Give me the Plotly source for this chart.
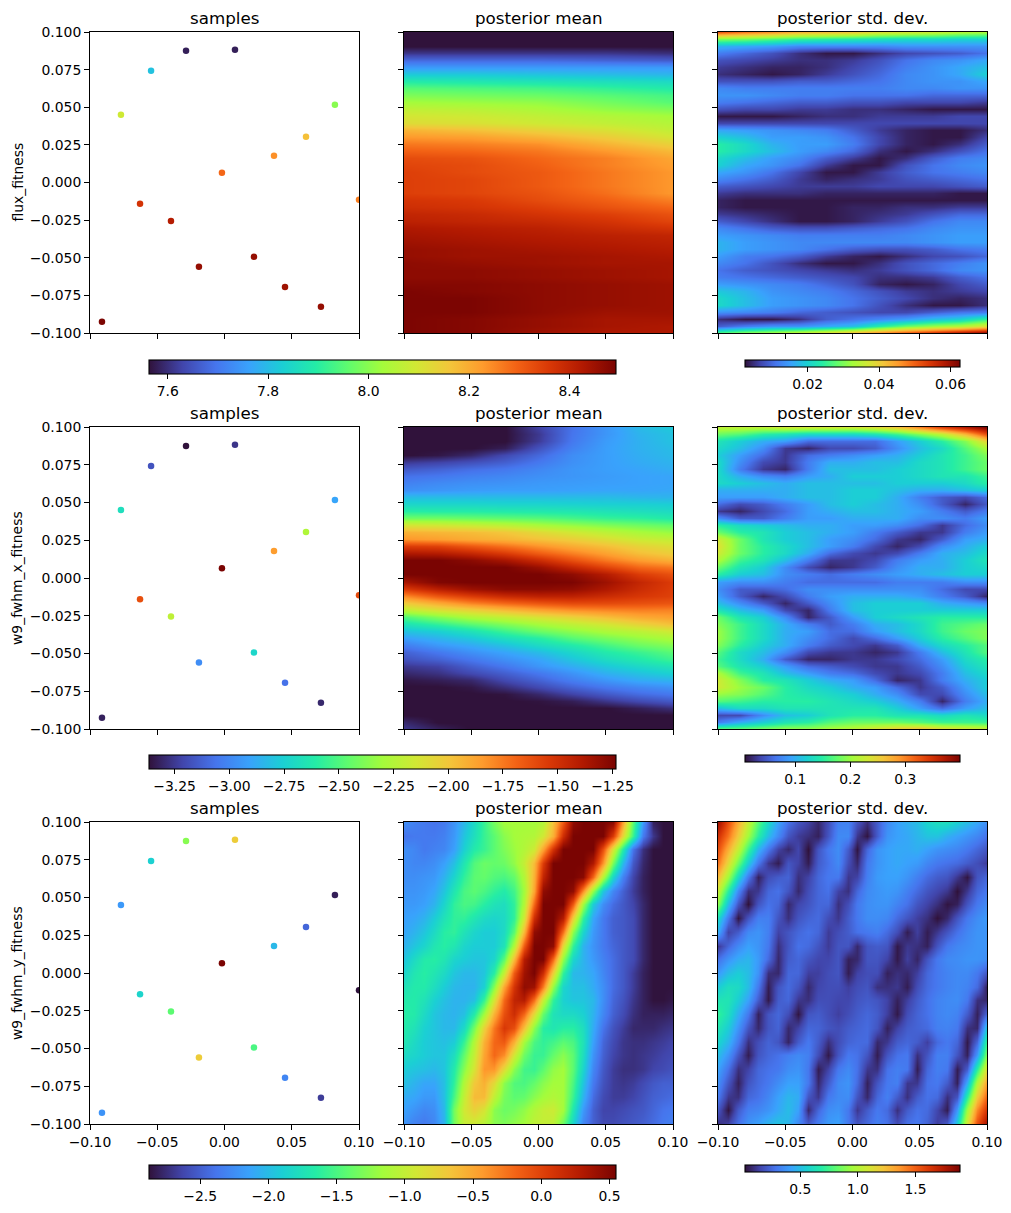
import numpy as np
import plotly.graph_objects as go

W, H = 1011, 1213
titles = ["samples", "posterior mean", "posterior std. dev."]
row_labels = ["flux_fitness", "w9_fwhm_x_fitness", "w9_fwhm_y_fitness"]

sample_x = [-.0286, .0078, -.0546, -.0770, .0821, .0606, .0368, -.0019, .1, -.0628, -.0398, .0219, -.0190, .0450, .0717, -.0911]
sample_y = [.0875, .0882, .0742, .0450, .0516, .0304, .0178, .0065, -.0115, -.0141, -.0255, -.0494, -.0560, -.0694, -.0826, -.0926]
sample_flux = [7.58, 7.58, 7.81, 8.09, 8.00, 8.17, 8.24, 8.29, 8.26, 8.37, 8.42, 8.46, 8.46, 8.45, 8.46, 8.49]
sample_wx = [-3.37, -3.26, -3.17, -2.68, -2.90, -2.26, -1.85, -1.23, -1.60, -1.62, -2.21, -2.72, -2.98, -3.07, -3.30, -3.32]
sample_wy = [-1.27, -.72, -1.88, -2.19, -2.81, -2.46, -2.02, .55, -2.87, -1.85, -1.43, -1.50, -.72, -2.29, -2.67, -2.22]

mean_flux = [
[7.56,7.56,7.56,7.56,7.56],[7.56,7.56,7.56,7.56,7.56],[7.56,7.56,7.56,7.56,7.56],
[7.61,7.61,7.61,7.61,7.60],[7.68,7.68,7.68,7.67,7.66],[7.75,7.75,7.75,7.75,7.75],
[7.82,7.82,7.81,7.80,7.79],[7.89,7.88,7.87,7.86,7.85],[7.95,7.94,7.93,7.91,7.89],
[7.99,7.98,7.97,7.95,7.93],[8.03,8.02,8.01,7.98,7.95],[8.07,8.06,8.04,8.01,7.99],
[8.10,8.09,8.07,8.05,8.03],[8.12,8.11,8.09,8.07,8.05],[8.19,8.17,8.14,8.11,8.07],
[8.23,8.22,8.19,8.15,8.10],[8.27,8.26,8.24,8.19,8.14],[8.30,8.29,8.27,8.23,8.18],
[8.33,8.32,8.29,8.26,8.21],[8.34,8.33,8.30,8.26,8.22],[8.35,8.33,8.31,8.27,8.23],
[8.35,8.34,8.31,8.27,8.23],[8.35,8.34,8.31,8.27,8.23],[8.35,8.34,8.32,8.28,8.23],
[8.37,8.36,8.33,8.30,8.26],[8.38,8.37,8.35,8.32,8.29],[8.40,8.39,8.37,8.35,8.32],
[8.41,8.40,8.39,8.37,8.34],[8.43,8.42,8.41,8.39,8.37],[8.44,8.43,8.42,8.41,8.40],
[8.45,8.44,8.43,8.42,8.41],[8.46,8.45,8.44,8.43,8.42],[8.46,8.45,8.45,8.44,8.43],
[8.47,8.46,8.45,8.44,8.44],[8.47,8.47,8.46,8.45,8.44],[8.47,8.47,8.46,8.45,8.44],
[8.48,8.48,8.47,8.46,8.45],[8.49,8.48,8.47,8.46,8.45],[8.49,8.49,8.47,8.46,8.45],
[8.49,8.49,8.47,8.46,8.45],[8.49,8.49,8.47,8.45,8.45],[8.49,8.48,8.46,8.44,8.44],
[8.49,8.48,8.46,8.44,8.43],[8.49,8.48,8.45,8.43,8.43]]

# thousandths
std_flux_milli = [
[51,48,46,43,42,41,38,37,36,34,33],[30,29,27,25,24,23,22,21,21,20,20],[17,16,15,13,13,13,13,14,14,14,14],
[12,10,8,5,3,3,5,7,8,9,11],[8,7,6,5,5,6,8,11,13,14,16],[6,5,4,4,5,7,9,12,14,16,18],
[5,4,3,4,6,8,10,13,14,16,20],[8,8,8,9,9,10,11,13,14,14,16],[13,12,12,12,12,12,12,13,13,14,14],
[14,14,13,12,12,11,11,11,10,10,10],[12,11,10,9,9,8,8,7,7,7,6],[8,7,7,6,6,5,5,4,3,3,3],
[3,3,3,4,5,5,6,6,6,7,7],[7,7,7,7,7,7,7,7,7,7,7],[16,15,14,13,12,9,6,4,3,3,5],
[20,18,15,15,14,11,7,4,3,3,7],[24,21,17,15,15,12,7,4,3,5,9],[24,21,18,15,13,10,5,3,5,8,11],
[21,18,15,13,9,6,3,5,9,12,13],[20,16,14,11,6,3,3,8,11,13,14],[16,14,11,7,3,3,6,9,11,12,13],
[13,11,9,6,4,5,6,8,9,10,11],[9,8,7,6,6,6,7,7,7,8,9],[6,5,5,5,4,4,4,4,4,3,3],
[4,3,3,3,3,3,3,3,3,3,3],[4,3,3,3,3,4,4,5,5,6,6],[6,5,4,3,3,4,5,6,8,10,10],
[9,7,5,3,3,4,6,8,11,13,13],[13,11,9,8,8,9,10,11,13,14,14],[15,14,13,12,12,12,12,13,14,15,15],
[17,15,14,13,13,13,13,13,14,15,15],[17,15,14,13,11,9,8,8,9,11,12],[15,12,11,9,6,4,3,5,7,8,10],
[13,11,8,5,3,3,5,8,10,12,14],[11,9,8,7,6,5,6,8,10,13,14],[12,11,10,9,8,7,5,5,6,9,11],
[15,14,13,12,10,8,4,3,4,7,9],[19,17,14,13,12,10,8,6,5,6,7],[21,18,15,14,13,11,9,7,5,4,5],
[21,18,15,14,13,11,8,5,3,3,5],[14,13,12,10,9,8,7,7,9,11,12],[5,3,3,5,9,11,13,15,18,20,25],
[9,12,14,14,16,18,24,29,32,34,38],[28,32,34,37,40,44,48,52,56,60,63]]

mean_wx = [
[-3.37,-3.37,-3.37,-3.37,-3.22,-3.07,-2.95,-2.83,-2.77],[-3.37,-3.37,-3.37,-3.37,-3.25,-3.06,-2.95,-2.85,-2.80],
[-3.37,-3.37,-3.37,-3.37,-3.24,-3.05,-2.93,-2.86,-2.80],[-3.37,-3.37,-3.37,-3.33,-3.17,-3.02,-2.92,-2.86,-2.82],
[-3.37,-3.35,-3.30,-3.20,-3.10,-2.98,-2.92,-2.87,-2.83],[-3.25,-3.22,-3.18,-3.13,-3.05,-2.97,-2.92,-2.88,-2.85],
[-3.15,-3.12,-3.08,-3.05,-3.00,-2.95,-2.92,-2.90,-2.87],[-3.07,-3.05,-3.02,-3.00,-2.97,-2.95,-2.93,-2.91,-2.90],
[-3.02,-2.99,-2.97,-2.96,-2.94,-2.93,-2.92,-2.91,-2.90],[-2.97,-2.95,-2.93,-2.92,-2.92,-2.91,-2.90,-2.90,-2.89],
[-2.82,-2.82,-2.82,-2.82,-2.82,-2.82,-2.82,-2.84,-2.85],[-2.72,-2.72,-2.72,-2.73,-2.73,-2.74,-2.75,-2.75,-2.76],
[-2.60,-2.61,-2.61,-2.62,-2.63,-2.64,-2.66,-2.68,-2.70],[-2.42,-2.42,-2.44,-2.46,-2.48,-2.52,-2.56,-2.58,-2.62],
[-2.13,-2.15,-2.18,-2.22,-2.28,-2.33,-2.38,-2.42,-2.45],[-1.92,-1.94,-1.96,-2.00,-2.08,-2.15,-2.22,-2.28,-2.33],
[-1.83,-1.86,-1.90,-1.93,-1.98,-2.03,-2.10,-2.17,-2.20],[-1.55,-1.57,-1.65,-1.73,-1.82,-1.90,-1.97,-2.05,-2.10],
[-1.38,-1.40,-1.46,-1.55,-1.67,-1.77,-1.87,-1.97,-2.03],[-1.23,-1.23,-1.28,-1.36,-1.48,-1.62,-1.75,-1.85,-1.92],
[-1.23,-1.23,-1.23,-1.23,-1.32,-1.45,-1.58,-1.70,-1.75],[-1.23,-1.23,-1.23,-1.23,-1.23,-1.29,-1.40,-1.55,-1.63],
[-1.36,-1.25,-1.23,-1.23,-1.23,-1.24,-1.33,-1.45,-1.55],[-1.55,-1.42,-1.33,-1.28,-1.28,-1.30,-1.38,-1.48,-1.56],
[-1.80,-1.65,-1.55,-1.47,-1.43,-1.43,-1.48,-1.53,-1.57],[-2.02,-1.90,-1.78,-1.70,-1.64,-1.60,-1.60,-1.62,-1.64],
[-2.22,-2.12,-2.05,-1.96,-1.88,-1.82,-1.79,-1.77,-1.78],[-2.50,-2.38,-2.27,-2.20,-2.12,-2.05,-1.97,-1.90,-1.86],
[-2.66,-2.57,-2.47,-2.38,-2.29,-2.21,-2.14,-2.05,-1.97],[-2.80,-2.75,-2.66,-2.54,-2.43,-2.35,-2.27,-2.22,-2.15],
[-2.92,-2.85,-2.78,-2.68,-2.60,-2.48,-2.40,-2.33,-2.27],[-3.03,-2.94,-2.88,-2.80,-2.70,-2.62,-2.52,-2.43,-2.37],
[-3.12,-3.05,-2.97,-2.90,-2.82,-2.72,-2.62,-2.55,-2.47],[-3.17,-3.12,-3.05,-2.97,-2.90,-2.79,-2.69,-2.62,-2.54],
[-3.25,-3.22,-3.13,-3.05,-2.95,-2.87,-2.78,-2.71,-2.65],[-3.30,-3.27,-3.20,-3.13,-3.05,-2.96,-2.86,-2.80,-2.74],
[-3.35,-3.33,-3.30,-3.20,-3.12,-3.03,-2.95,-2.88,-2.85],[-3.37,-3.37,-3.35,-3.28,-3.20,-3.12,-3.05,-3.00,-2.96],
[-3.37,-3.37,-3.37,-3.36,-3.30,-3.22,-3.15,-3.09,-3.05],[-3.37,-3.37,-3.37,-3.37,-3.36,-3.33,-3.26,-3.20,-3.15],
[-3.37,-3.37,-3.37,-3.37,-3.37,-3.37,-3.37,-3.33,-3.28],[-3.37,-3.37,-3.37,-3.37,-3.37,-3.37,-3.37,-3.37,-3.37],
[-3.30,-3.37,-3.37,-3.37,-3.37,-3.37,-3.37,-3.37,-3.37],[-3.25,-3.32,-3.37,-3.37,-3.37,-3.37,-3.37,-3.37,-3.37]]

# hundredths
std_wx_centi = [
[22,22,22,23,23,23,23,24,26,30,34,37,40],[18,17,15,14,13,13,13,14,16,19,22,27,33],[14,12,10,9,6,6,6,6,9,12,15,19,25],
[13,11,8,3,2,4,4,5,8,11,13,17,21],[12,9,6,3,6,7,8,9,10,12,14,16,19],[13,8,4,3,7,10,10,11,11,13,14,16,18],
[13,7,3,2,7,11,11,11,12,13,14,16,18],[13,10,8,7,9,10,12,12,12,13,14,14,16],[13,12,11,10,11,11,11,11,12,12,12,13,15],
[10,10,10,10,11,11,12,12,11,10,10,11,12],[9,9,9,10,11,11,12,12,10,7,5,4,6],[6,4,5,7,9,11,12,11,10,8,5,2,5],
[3,2,4,6,9,10,11,11,10,9,7,5,7],[8,5,5,7,9,9,10,10,10,8,8,7,9],[15,13,12,11,10,10,9,9,8,6,3,6,8],
[18,15,14,12,11,10,9,7,5,3,3,7,9],[23,18,14,12,11,9,8,6,3,2,5,9,10],[24,18,15,13,11,9,7,4,2,4,8,10,12],
[23,18,15,13,10,6,4,3,4,7,10,11,13],[21,16,14,11,7,3,3,4,7,9,10,12,14],[18,14,12,8,4,2,3,5,8,10,10,12,13],
[15,12,11,8,7,6,7,8,9,10,11,12,12],[9,8,8,7,6,6,6,6,7,7,7,8,8],[8,5,5,6,8,8,8,8,8,8,6,4,4],
[9,5,2,4,7,9,10,10,10,9,7,5,2],[11,8,5,2,5,8,11,12,12,12,10,9,8],[14,11,9,4,2,7,11,12,12,12,12,12,12],
[18,14,12,8,2,5,9,12,13,14,15,15,15],[19,16,13,10,7,5,7,10,11,13,16,17,18],[20,16,13,10,9,6,6,9,11,13,16,18,19],
[20,16,13,10,8,6,4,6,9,12,15,17,19],[19,15,12,10,7,5,4,3,5,10,13,15,17],[17,13,11,8,4,3,3,2,3,7,11,14,17],
[16,13,10,5,2,2,3,3,4,6,9,13,15],[17,14,12,9,6,5,4,3,3,5,8,12,14],[21,16,14,11,9,7,6,4,3,4,7,11,13],
[23,19,15,14,12,10,9,6,2,3,7,10,12],[23,20,18,15,13,12,10,9,6,3,5,9,12],[20,19,17,15,14,13,12,10,8,4,4,8,11],
[17,16,15,15,15,14,13,12,10,7,2,7,10],[11,13,13,14,14,14,14,14,12,9,6,9,11],[4,4,8,11,12,14,15,15,14,14,13,14,13],
[7,10,12,14,15,17,18,18,18,17,16,16,16],[18,18,19,20,20,21,22,24,26,27,25,24,23]]

mean_wy = [
[-2.25,-2.32,-2.36,-2.39,-2.36,-2.22,-2.02,-1.81,-1.57,-1.33,-1.16,-1.16,-1.16,-1.16,-1.09,-.65,-.13,.45,.55,.55,.55,.48,-.48,-1.43,-2.19,-2.80,-2.87,-2.87],
[-2.39,-2.36,-2.36,-2.36,-2.32,-2.19,-1.95,-1.77,-1.57,-1.43,-1.26,-1.16,-1.12,-1.09,-.92,-.55,.14,.55,.55,.55,.55,.04,-.82,-1.57,-2.36,-2.70,-2.87,-2.87],
[-2.25,-2.29,-2.36,-2.32,-2.29,-2.15,-1.88,-1.67,-1.57,-1.43,-1.30,-1.19,-1.09,-.95,-.48,.10,.55,.55,.55,.55,-.07,-.89,-1.67,-2.39,-2.73,-2.87,-2.87,-2.87],
[-2.25,-2.29,-2.29,-2.25,-2.15,-1.98,-1.71,-1.47,-1.37,-1.40,-1.37,-1.23,-.99,-.61,.04,.55,.55,.55,.55,.31,-.41,-1.33,-2.02,-2.53,-2.77,-2.87,-2.87,-2.87],
[-2.25,-2.25,-2.22,-2.19,-2.05,-1.85,-1.60,-1.43,-1.40,-1.47,-1.50,-1.40,-1.09,-.55,.21,.55,.55,.55,.48,-.20,-1.09,-1.85,-2.32,-2.63,-2.80,-2.87,-2.87,-2.87],
[-2.22,-2.22,-2.19,-2.12,-1.95,-1.71,-1.50,-1.43,-1.50,-1.60,-1.67,-1.53,-1.16,-.48,.45,.55,.55,.45,-.37,-1.23,-1.95,-2.29,-2.49,-2.67,-2.80,-2.87,-2.87,-2.87],
[-2.19,-2.19,-2.15,-2.05,-1.85,-1.60,-1.50,-1.53,-1.64,-1.74,-1.78,-1.60,-1.09,-.20,.55,.55,.55,-.13,-1.16,-1.91,-2.25,-2.43,-2.53,-2.63,-2.77,-2.87,-2.87,-2.87],
[-2.15,-2.12,-2.05,-1.91,-1.74,-1.60,-1.60,-1.71,-1.81,-1.85,-1.81,-1.60,-.92,.14,.55,.55,.28,-.75,-1.60,-2.12,-2.36,-2.49,-2.53,-2.60,-2.77,-2.87,-2.87,-2.87],
[-2.12,-2.05,-1.95,-1.81,-1.64,-1.60,-1.74,-1.85,-1.91,-1.91,-1.81,-1.43,-.58,.45,.55,.55,-.24,-1.26,-1.85,-2.19,-2.36,-2.49,-2.53,-2.60,-2.77,-2.87,-2.87,-2.87],
[-2.05,-1.95,-1.85,-1.71,-1.64,-1.71,-1.85,-1.91,-1.91,-1.91,-1.74,-1.09,-.13,.55,.55,.45,-.82,-1.60,-2.05,-2.22,-2.36,-2.46,-2.53,-2.60,-2.77,-2.87,-2.87,-2.87],
[-1.95,-1.81,-1.67,-1.64,-1.71,-1.85,-1.91,-1.95,-1.95,-1.85,-1.43,-.61,.28,.55,.55,-.20,-1.23,-1.85,-2.05,-2.19,-2.32,-2.43,-2.53,-2.60,-2.77,-2.87,-2.87,-2.87],
[-1.85,-1.71,-1.64,-1.71,-1.81,-1.95,-2.02,-2.02,-1.95,-1.64,-.99,-.13,.38,.55,.14,-.75,-1.60,-2.02,-2.05,-2.12,-2.29,-2.43,-2.53,-2.67,-2.80,-2.87,-2.87,-2.87],
[-1.74,-1.67,-1.67,-1.78,-1.91,-2.02,-2.05,-2.05,-1.88,-1.26,-.48,.10,.45,.38,-.31,-1.23,-1.85,-1.98,-1.98,-2.09,-2.25,-2.43,-2.53,-2.67,-2.80,-2.87,-2.87,-2.87],
[-1.67,-1.67,-1.74,-1.88,-1.98,-2.05,-2.05,-1.98,-1.57,-.89,-.20,.21,.28,-.24,-.99,-1.60,-1.88,-1.95,-1.95,-2.02,-2.25,-2.46,-2.56,-2.70,-2.80,-2.87,-2.87,-2.84],
[-1.64,-1.67,-1.81,-1.95,-2.02,-2.05,-1.98,-1.67,-1.16,-.55,-.07,.14,-.20,-.82,-1.40,-1.74,-1.81,-1.81,-1.88,-2.05,-2.29,-2.49,-2.60,-2.73,-2.80,-2.80,-2.80,-2.77],
[-1.67,-1.74,-1.88,-1.95,-2.02,-2.02,-1.81,-1.33,-.75,-.27,.07,-.07,-.65,-1.26,-1.64,-1.71,-1.64,-1.64,-1.78,-2.09,-2.39,-2.56,-2.67,-2.77,-2.77,-2.77,-2.73,-2.70],
[-1.71,-1.81,-1.91,-1.95,-1.98,-1.91,-1.57,-1.09,-.55,-.20,-.13,-.55,-1.16,-1.50,-1.60,-1.53,-1.43,-1.50,-1.74,-2.15,-2.46,-2.60,-2.70,-2.73,-2.73,-2.70,-2.67,-2.63],
[-1.81,-1.85,-1.91,-1.95,-1.95,-1.78,-1.40,-.99,-.48,-.20,-.37,-.92,-1.37,-1.57,-1.57,-1.40,-1.26,-1.43,-1.78,-2.22,-2.49,-2.63,-2.70,-2.73,-2.70,-2.67,-2.63,-2.60],
[-1.91,-1.95,-1.98,-2.02,-1.95,-1.67,-1.26,-.89,-.41,-.41,-.82,-1.26,-1.53,-1.57,-1.43,-1.23,-1.16,-1.43,-1.85,-2.29,-2.53,-2.67,-2.73,-2.73,-2.70,-2.63,-2.60,-2.56],
[-1.98,-2.05,-2.12,-2.12,-1.98,-1.60,-1.09,-.69,-.55,-.82,-1.26,-1.47,-1.50,-1.40,-1.26,-1.16,-1.16,-1.50,-1.95,-2.36,-2.56,-2.67,-2.70,-2.67,-2.60,-2.53,-2.49,-2.49],
[-2.09,-2.12,-2.19,-2.19,-1.98,-1.50,-.99,-.61,-.61,-1.02,-1.33,-1.43,-1.40,-1.26,-1.16,-1.09,-1.16,-1.57,-2.05,-2.43,-2.60,-2.67,-2.67,-2.63,-2.56,-2.49,-2.46,-2.43],
[-2.15,-2.22,-2.29,-2.25,-2.02,-1.33,-.92,-.75,-.89,-1.26,-1.37,-1.33,-1.23,-1.09,-.99,-.95,-1.16,-1.71,-2.19,-2.49,-2.63,-2.63,-2.60,-2.56,-2.53,-2.46,-2.39,-2.36],
[-2.22,-2.32,-2.36,-2.29,-2.05,-1.33,-.99,-.95,-1.06,-1.26,-1.30,-1.23,-1.16,-1.02,-.99,-1.02,-1.37,-1.85,-2.29,-2.49,-2.60,-2.60,-2.56,-2.53,-2.49,-2.43,-2.36,-2.32]]

std_wy = [
[1.8,1.55,1.3,1.05,.8,.6,.42,.28,.2,.15,.08,.18,.32,.33,.2,.1,.22,.35,.42,.46,.5,.58,.62,.62,.56,.5,.44,.36],
[1.65,1.45,1.2,.95,.7,.5,.35,.2,.13,.1,.06,.2,.35,.35,.12,.03,.22,.38,.42,.44,.48,.52,.52,.46,.42,.38,.34,.28],
[1.55,1.3,1.05,.75,.48,.3,.15,.08,.16,.02,.2,.3,.36,.22,.03,.25,.38,.42,.44,.44,.46,.42,.38,.36,.34,.3,.25,.2],
[1.45,1.15,.85,.55,.3,.12,.05,.2,.15,.05,.22,.28,.35,.18,.08,.3,.38,.42,.44,.42,.4,.34,.3,.28,.26,.22,.18,.13],
[1.25,.95,.6,.3,.06,.18,.22,.24,.1,.15,.25,.3,.3,.12,.15,.32,.4,.42,.42,.38,.32,.26,.22,.2,.12,.03,.2,.25],
[1.05,.7,.35,.1,.12,.25,.28,.2,.08,.18,.25,.28,.15,.1,.25,.35,.38,.4,.38,.32,.26,.2,.16,.12,.02,.12,.25,.3],
[.9,.5,.2,.02,.2,.28,.25,.08,.16,.2,.25,.25,.1,.18,.3,.36,.38,.38,.33,.28,.2,.15,.1,.03,.06,.2,.3,.35],
[.6,.3,.03,.2,.32,.32,.2,.1,.2,.24,.26,.18,.12,.22,.3,.36,.36,.34,.26,.2,.14,.1,.02,.08,.2,.3,.36,.4],
[.45,.15,.22,.35,.38,.32,.15,.2,.25,.28,.25,.13,.18,.22,.28,.3,.32,.26,.18,.05,.14,.05,.12,.2,.28,.34,.38,.38],
[.12,.25,.35,.42,.38,.3,.1,.2,.28,.26,.2,.13,.2,.2,.08,.2,.22,.2,.04,.12,.1,.06,.2,.3,.34,.36,.38,.38],
[.28,.38,.45,.48,.4,.26,.08,.22,.25,.2,.16,.16,.2,.06,.08,.2,.2,.15,.04,.14,.07,.2,.3,.35,.36,.38,.38,.36],
[.4,.5,.55,.5,.38,.1,.08,.25,.25,.14,.14,.18,.2,.05,.15,.18,.18,.06,.1,.08,.14,.25,.3,.33,.35,.35,.3,.2],
[.55,.62,.6,.5,.3,.05,.2,.26,.2,.08,.16,.18,.18,.14,.18,.2,.1,.1,.12,.05,.18,.26,.3,.33,.35,.33,.26,.05],
[.65,.65,.55,.42,.22,.04,.22,.25,.12,.1,.18,.18,.16,.16,.2,.22,.2,.15,.06,.14,.22,.28,.33,.35,.36,.3,.1,.08],
[.72,.62,.46,.3,.06,.2,.25,.18,.03,.2,.22,.18,.14,.18,.22,.25,.22,.14,.04,.18,.24,.28,.33,.35,.33,.22,.06,.25],
[.65,.55,.38,.2,.08,.2,.24,.08,.15,.25,.24,.2,.18,.22,.24,.26,.2,.06,.15,.22,.24,.26,.32,.33,.3,.1,.08,.55],
[.58,.48,.3,.1,.18,.24,.2,.07,.22,.3,.22,.1,.18,.24,.26,.26,.08,.12,.22,.25,.22,.14,.26,.3,.25,.04,.25,.75],
[.5,.38,.2,.05,.2,.25,.28,.32,.35,.32,.18,.04,.2,.3,.28,.2,.05,.2,.28,.3,.1,.2,.32,.32,.2,.06,.4,.9],
[.42,.28,.1,.15,.25,.28,.3,.36,.38,.3,.05,.15,.3,.35,.28,.12,.1,.28,.32,.3,.05,.25,.32,.3,.05,.22,.7,1.15],
[.36,.2,.06,.2,.26,.3,.36,.42,.42,.3,.08,.22,.35,.38,.26,.06,.2,.3,.32,.12,.12,.28,.3,.22,.06,.45,1.0,1.35],
[.3,.12,.1,.25,.28,.34,.42,.48,.45,.2,.12,.3,.35,.36,.2,.08,.25,.32,.22,.1,.22,.28,.26,.1,.2,.7,1.2,1.5],
[.2,.03,.22,.32,.34,.38,.44,.5,.42,.08,.25,.36,.38,.3,.12,.22,.3,.26,.1,.22,.28,.26,.16,.05,.4,.95,1.4,1.65],
[.1,.15,.28,.38,.42,.48,.52,.48,.35,.22,.32,.4,.42,.3,.2,.26,.32,.28,.18,.28,.3,.24,.14,.22,.55,1.1,1.55,1.8]]

axis_ticks = [-.1, -.05, 0, .05, .1]
y_ticks = [-.1, -.075, -.05, -.025, 0, .025, .05, .075, .1]
mean_ranges = [(7.563, 8.493), (-3.366, -1.233), (-2.874, .549)]
std_ranges = [(.0025, .0627), (.0091, .3994), (.022, 1.888)]
mean_bar_ticks = [[7.6, 7.8, 8.0, 8.2, 8.4],
                  [-3.25, -3.0, -2.75, -2.5, -2.25, -2.0, -1.75, -1.5, -1.25],
                  [-2.5, -2.0, -1.5, -1.0, -.5, 0, .5]]
std_bar_ticks = [[.02, .04, .06], [.1, .2, .3], [.5, 1.0, 1.5]]
mean_bar_fmt = [".1f", ".2f", ".1f"]
std_bar_fmt = [".2f", ".1f", ".1f"]

column_px = [(90, 359), (404, 673), (718, 987)]
row_px = [(32, 333), (427, 729), (822, 1124)]
mean_bar_px = [(360, 374), (755, 769), (1165, 1179)]
std_bar_px = [(360, 367), (755, 762), (1165, 1172)]

FONT = "DejaVu Sans"
fig = go.Figure()
annotations = []
BLACK = "#000000"


def colorbar(x0, x1, y0, y1, ticks, fmt):
    return dict(
        orientation="h", lenmode="pixels", len=x1 - x0, thickness=y1 - y0,
        x=(x0 + x1) / 2 / W, xanchor="center", y=1 - y0 / H, yanchor="top",
        xpad=0, ypad=0, outlinecolor=BLACK, outlinewidth=1.1,
        tickmode="array", tickvals=ticks, tickformat=fmt, ticks="outside",
        ticklen=5, tickwidth=1.1, tickcolor=BLACK,
        tickfont=dict(family=FONT, size=13.9, color=BLACK),
    )


def heat(z, zr, axis_n, cb):
    z = np.array(z, dtype=float)
    fig.add_trace(go.Heatmap(
        z=z, x=np.linspace(-.1, .1, z.shape[1]), y=np.linspace(.1, -.1, z.shape[0]),
        colorscale="Turbo", zmin=zr[0], zmax=zr[1], zsmooth="best",
        colorbar=cb, xaxis=f"x{axis_n}", yaxis=f"y{axis_n}", hoverinfo="skip",
    ))


sample_sets = [sample_flux, sample_wx, sample_wy]
mean_sets = [mean_flux, mean_wx, mean_wy]
std_sets = [np.array(std_flux_milli) / 1000, np.array(std_wx_centi) / 100, std_wy]

layout_axes = {}
for r in range(3):
    y0, y1 = row_px[r]
    for c in range(3):
        n = r * 3 + c + 1
        x0, x1 = column_px[c]
        common = dict(range=[-.1, .1], showgrid=False, zeroline=False, showline=True, mirror=True,
                      linecolor=BLACK, linewidth=1.1, ticks="outside", ticklen=4.9, tickwidth=1.1,
                      tickcolor=BLACK, tickmode="array", tickfont=dict(family=FONT, size=13.9, color=BLACK))
        layout_axes[f"xaxis{n}"] = dict(common, domain=[x0 / W, x1 / W], anchor=f"y{n}", tickvals=axis_ticks,
                                        tickformat=".2f", showticklabels=r == 2)
        layout_axes[f"yaxis{n}"] = dict(common, domain=[1 - y1 / H, 1 - y0 / H], anchor=f"x{n}", tickvals=y_ticks,
                                        tickformat=".3f", showticklabels=c == 0)
        annotations.append(dict(text=titles[c], x=(x0 + x1) / 2 / W, y=1 - (y0 - 2) / H, xref="paper", yref="paper",
                                xanchor="center", yanchor="bottom", showarrow=False,
                                font=dict(family=FONT, size=16.7, color=BLACK)))
    annotations.append(dict(text=row_labels[r], x=17 / W, y=1 - (y0 + y1) / 2 / H, xref="paper", yref="paper",
                            xanchor="center", yanchor="middle", textangle=-90, showarrow=False,
                            font=dict(family=FONT, size=13.9, color=BLACK)))
    fig.add_trace(go.Scatter(
        x=sample_x, y=sample_y, mode="markers", xaxis=f"x{r*3+1}", yaxis=f"y{r*3+1}",
        marker=dict(size=6.5, color=sample_sets[r], colorscale="Turbo", cmin=mean_ranges[r][0], cmax=mean_ranges[r][1]),
        showlegend=False, hoverinfo="skip",
    ))
    heat(mean_sets[r], mean_ranges[r], r * 3 + 2,
         colorbar(149.3, 616, *mean_bar_px[r], mean_bar_ticks[r], mean_bar_fmt[r]))
    heat(std_sets[r], std_ranges[r], r * 3 + 3,
         colorbar(745.3, 960, *std_bar_px[r], std_bar_ticks[r], std_bar_fmt[r]))

fig.update_layout(width=W, height=H, margin=dict(l=0, r=0, t=0, b=0, autoexpand=False), paper_bgcolor="white",
                  plot_bgcolor="white", showlegend=False, annotations=annotations,
                  font=dict(family=FONT, color=BLACK), **layout_axes)
fig.write_html("out.html", config={"displayModeBar": False},
               post_script="document.body.style.margin='0';document.body.style.overflow='hidden';")
